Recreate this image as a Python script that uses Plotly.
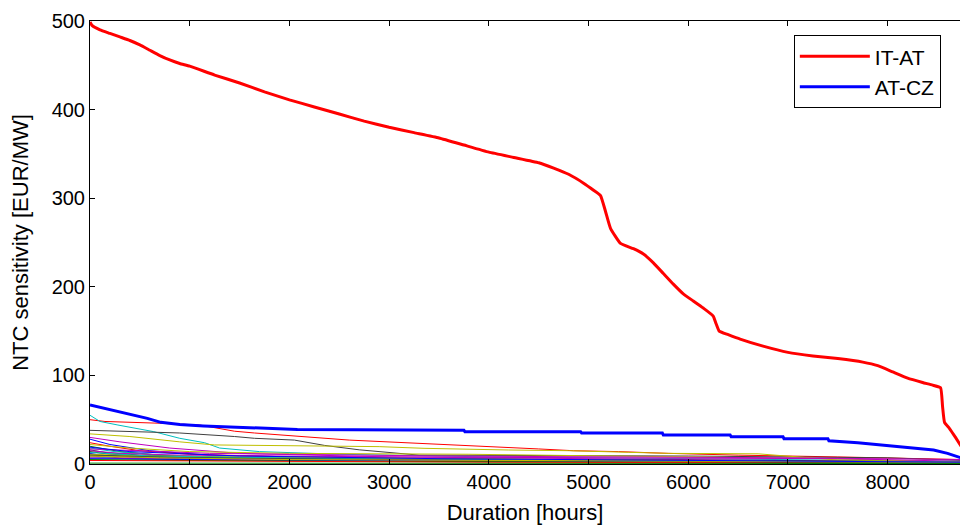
import plotly.graph_objects as go

# ---------------- data ----------------
it_at_hours = [0, 20, 100, 200, 300, 400, 500, 600, 700, 800, 900, 1000, 1250, 1500, 1750, 2000,
               2250, 2500, 2750, 3000, 3250, 3500, 3750, 4000, 4250, 4500, 4650, 4800, 4950,
               5050, 5120, 5170, 5220, 5320, 5450, 5550, 5650, 5750, 5850, 5950, 6050, 6150,
               6250, 6280, 6310, 6400, 6520, 6750, 7000, 7250, 7500, 7750, 7900, 8050, 8200,
               8350, 8450, 8530, 8550, 8570, 8620, 8680, 8760]
it_at_values = [499, 495, 490, 486, 482, 478, 473, 467, 461, 456, 452, 449, 439, 430, 420, 411,
                403, 395, 387, 380, 374, 368, 360, 352, 346, 340, 334, 327, 317,
                309, 303, 285, 266, 249, 243, 237, 227, 215, 203, 192, 184, 176,
                167, 158, 150, 146, 141, 133, 126, 122, 119, 115, 111, 104, 97,
                92, 89, 86, 65, 47, 40, 30, 16]

at_cz_hours = [0, 100, 235, 400, 575, 710, 900, 1140, 2080, 3750, 3760, 4920, 4930, 5740, 5750,
               6420, 6430, 6950, 6960, 7400, 7410, 7700, 7930, 8230, 8460, 8600, 8700, 8760]
at_cz_values = [66.6, 64, 61, 56, 51.5, 47, 44.5, 43, 39, 38, 36.5, 36.5, 35, 35, 32.7,
                32.7, 30.8, 30.8, 28.6, 28.6, 26.3, 24, 21.4, 17.7, 15.8, 12, 8, 6]

other_hours = [
    [0, 150, 700, 1100, 1450, 1650, 2600, 2950, 3350, 3750, 4100, 4500, 4850, 5300, 5800, 6500, 7500, 8760],
    [0, 100, 280, 440, 640, 900, 1150, 1300, 1700, 2500, 4000, 6000, 8760],
    [0, 900, 1450, 1650, 2050, 2350, 2700, 2900, 3300, 6000, 8000, 8760],
    [0, 400, 900, 1250, 2900, 3350, 4200, 4800, 5400, 5800, 6700, 7100, 7500, 8760],
    [0, 300, 800, 1500, 3000, 5000, 7000, 8760],
    [0, 200, 600, 1200, 2500, 4500, 7000, 8760],
    [0, 300, 800, 2000, 5000, 8760],
    [0, 200, 500, 1000, 2000, 3500, 6000, 8760],
    [0, 250, 700, 1500, 3000, 5500, 8760],
    [0, 150, 500, 1200, 2500, 4500, 6500, 8760],
    [0, 400, 1000, 2000, 3800, 5500, 7400, 8760],
    [0, 300, 900, 1800, 3000, 5000, 7500, 8760],
    [0, 100, 400, 900, 2000, 4000, 6000, 8760],
    [0, 500, 1500, 3000, 6000, 8760],
    [0, 300, 1000, 2500, 5000, 8760],
    [0, 400, 1200, 3000, 6000, 8760],
    [0, 200, 800, 2000, 4000, 7000, 8760],
    [0, 600, 1500, 3500, 6000, 8760],
    [0, 500, 1500, 4000, 7000, 8760],
    [0, 800, 2000, 4500, 7000, 8760],
    [0, 1000, 3000, 6000, 8760],
    [0, 1500, 4000, 8760],
    [0, 600, 2500, 5000, 8760],
    [0, 1000, 3000, 5500, 8760],
    [0, 700, 2000, 4500, 8760],
    [0, 1200, 3500, 7000, 8760],
    [0, 400, 1500, 3500, 8760],
    [0, 8760],
]
other_values = [
    [50, 48, 46, 44, 37, 35, 27, 25, 23, 21, 19, 17, 15, 14, 12, 10, 8, 5],
    [55, 48, 44, 40.5, 36.5, 29, 24, 18, 14, 11, 8, 6, 3],
    [38, 35, 31, 29, 27, 21, 16, 14, 10, 9, 7, 4],
    [34, 31, 25, 21.5, 19.6, 17.7, 15.8, 15, 13.2, 12, 11.5, 8.3, 4.5, 2],
    [30, 25, 18, 12, 8, 6, 4, 1],
    [28, 22, 15, 10, 7, 5, 3, 1],
    [20, 14, 9, 5, 3, 0.5],
    [24, 20, 15, 11, 8, 6, 4, 2],
    [18, 14, 10, 7, 5, 3, 1],
    [16, 13, 10, 8, 6, 5, 3, 1],
    [22, 18, 14, 12, 11, 9, 6, 2],
    [15, 12, 10, 9, 8, 7, 6, 3],
    [12, 10, 8, 6, 5, 4, 3, 2],
    [10, 8, 6, 4, 2, 0.5],
    [9, 7, 5, 4, 3, 1],
    [8, 6, 5, 4, 3, 1.5],
    [14, 11, 8, 6, 5, 4, 2],
    [11, 9, 8, 6, 4, 1],
    [7, 6, 5, 4, 3, 2],
    [6, 5, 4, 3.5, 2.5, 1],
    [5, 4, 3, 2, 1],
    [4, 3, 2, 1],
    [13, 9, 6, 4, 2],
    [10, 7, 5, 3, 1],
    [9, 7, 5, 4, 2],
    [17, 12, 9, 7, 5],
    [19, 14, 9, 6, 2],
    [1, 0.5],
]

x_ticks = [0, 1000, 2000, 3000, 4000, 5000, 6000, 7000, 8000]
y_ticks = [0, 100, 200, 300, 400, 500]

# ---------------- style ----------------
matlab_colors = ["#ff0000", "#00bfbf", "#404040", "#bfbf00", "#bf00bf", "#0000ff", "#008000"]
FONT = "Liberation Sans, Arial, sans-serif"

fig = go.Figure()
for i, (h, v) in enumerate(zip(other_hours, other_values)):
    fig.add_trace(go.Scatter(x=h, y=v, mode="lines", showlegend=False, hoverinfo="skip",
                             line=dict(color=matlab_colors[i % len(matlab_colors)], width=1)))

fig.add_trace(go.Scatter(x=at_cz_hours, y=at_cz_values, mode="lines", name="AT-CZ",
                         line=dict(color="#0000ff", width=3), legendrank=2))
fig.add_trace(go.Scatter(x=it_at_hours, y=it_at_values, mode="lines", name="IT-AT",
                         line=dict(color="#ff0000", width=3, shape="spline", smoothing=0.4),
                         legendrank=1))

fig.update_layout(
    width=960, height=527,
    margin=dict(l=90, r=0, t=21, b=63),
    paper_bgcolor="white", plot_bgcolor="white",
    font=dict(family=FONT, size=20, color="black"),
    legend=dict(x=0.809, y=0.968, xanchor="left", yanchor="top",
                bordercolor="black", borderwidth=1, bgcolor="white",
                font=dict(size=21), itemwidth=70, traceorder="normal"),
)
fig.update_xaxes(range=[0, 8725], tickvals=x_ticks, ticktext=[str(t) for t in x_ticks],
                 ticks="inside", ticklen=5, tickcolor="black", showline=True, linecolor="black",
                 linewidth=1, mirror="ticks", showgrid=False, zeroline=False,
                 title=dict(text="Duration [hours]", font=dict(size=22), standoff=12),
                 tickfont=dict(size=20))
fig.update_yaxes(range=[0, 500], tickvals=y_ticks, ticktext=[str(t) for t in y_ticks],
                 ticks="inside", ticklen=5, tickcolor="black", showline=True, linecolor="black",
                 linewidth=1, mirror=False, showgrid=False, zeroline=False,
                 title=dict(text="NTC sensitivity [EUR/MW]", font=dict(size=22), standoff=16),
                 tickfont=dict(size=20))

fig.write_html("out.html")
